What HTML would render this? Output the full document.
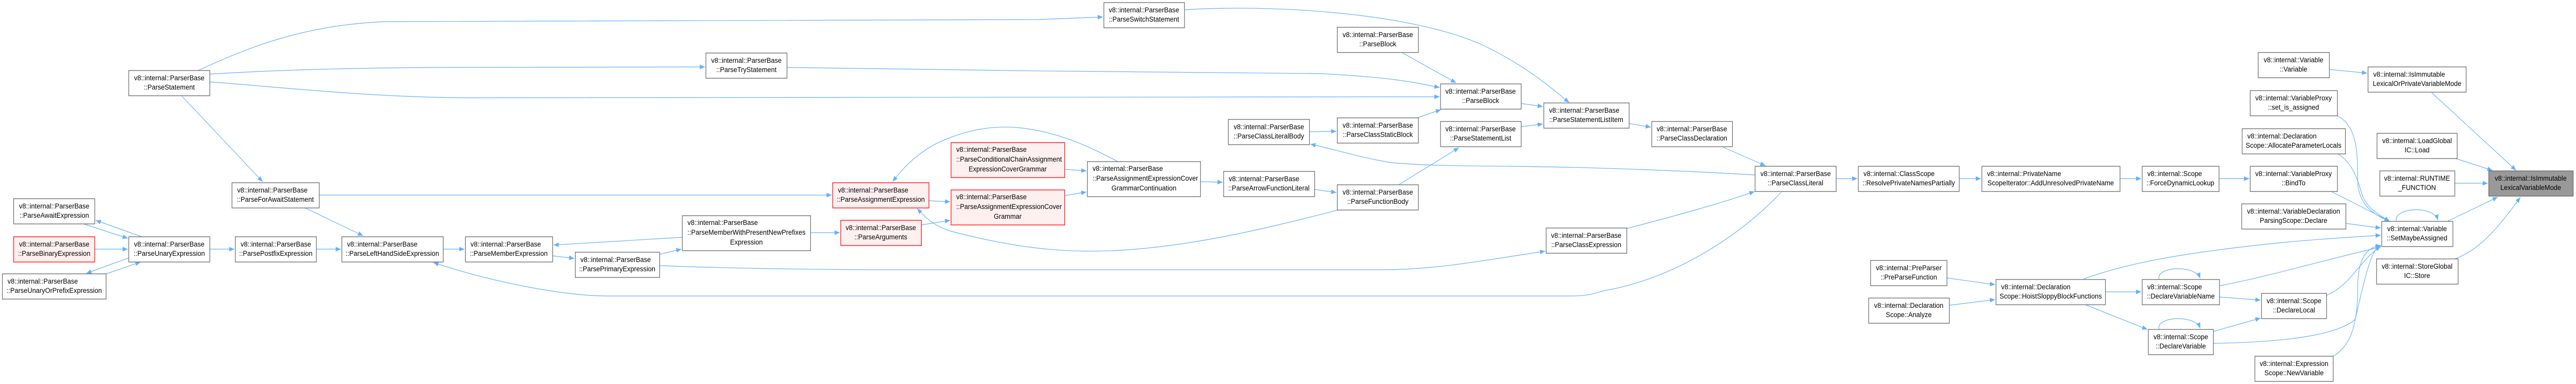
<!DOCTYPE html>
<html><head><meta charset="utf-8"><style>
html,body{margin:0;padding:0;background:#fff;width:100%;height:100%;overflow:hidden;}
svg{display:block;position:absolute;left:0;top:0;width:100%;height:100%;}
text{font-family:"Liberation Sans",sans-serif;font-size:14px;fill:#000;}
.n{fill:#fff;stroke:#666;stroke-width:1.3;}
.r{fill:#fff0f0;stroke:#f00;stroke-width:1.3;}
.g{fill:#999;stroke:#666;stroke-width:1.3;}
.e{fill:none;stroke:#63b0ff;stroke-width:1.2;marker-end:url(#a);}
.m{text-anchor:middle;}
</style></head><body>
<svg viewBox="0 0 5463 746" preserveAspectRatio="none" xmlns="http://www.w3.org/2000/svg">
<defs><marker id="a" markerWidth="12" markerHeight="9" refX="11" refY="4.5" orient="auto" markerUnits="userSpaceOnUse"><path d="M0,0 L11,4.5 L0,9 z" fill="#63b0ff"/></marker></defs>

<path class="e" d="M420,137 C520,95 640,48 820,42 L2200,38 L2339,33"/>
<path class="e" d="M445,144 C600,135 800,131 1000,131 L1495,130"/>
<path class="e" d="M445,159 C600,170 800,190 1000,190 L3053,188"/>
<path class="e" d="M386,187 L557,353"/>
<path class="e" d="M2512,19 C2700,8 3000,25 3150,90 C3250,135 3300,180 3328,199"/>
<path class="e" d="M1669,131 C2000,138 2500,139 2800,143 C2950,150 3000,160 3053,170"/>
<path class="e" d="M2973,102 L3088,161"/>
<path class="e" d="M3005,229 L3056,213"/>
<path class="e" d="M3226,201 L3272,207"/>
<path class="e" d="M3226,246 L3272,241"/>
<path class="e" d="M3455,240 L3501,247"/>
<path class="e" d="M2966,359 L3094,287"/>
<path class="e" d="M3652,285 L3744,322"/>
<path class="e" d="M2777,256 L2834,255"/>
<path class="e" d="M3722,340 C3600,333 3400,325 3200,323 C3050,322 3000,320 2950,316 C2880,305 2830,290 2779,280"/>
<path class="e" d="M2788,368 L2834,374"/>
<path class="e" d="M2838,408 C2700,440 2500,488 2310,488 C2200,488 2100,469 2020,450 C1980,440 1960,420 1945,405"/>
<path class="e" d="M2371,314 C2320,290 2250,256 2160,248 C2100,243 2050,255 2016,267 C1960,285 1920,320 1893,353"/>
<path class="e" d="M1970,390 L2015,392"/>
<path class="e" d="M1954,437 L2015,428"/>
<path class="e" d="M2258,329 L2304,332"/>
<path class="e" d="M2258,380 L2304,373"/>
<path class="e" d="M2546,353 L2593,354"/>
<path class="e" d="M1719,452 L1781,452"/>
<path class="e" d="M677,379 L1764,379"/>
<path class="e" d="M645,403 L770,458"/>
<path class="e" d="M445,484 L497,484"/>
<path class="e" d="M671,484 L723,484"/>
<path class="e" d="M940,484 L985,484"/>
<path class="e" d="M1172,497 L1218,502"/>
<path class="e" d="M1447,461 L1174,476"/>
<path class="e" d="M1399,494 L1445,484"/>
<path class="e" d="M3780,371 C3700,450 3560,540 3400,565 C3380,570 3370,575 3330,575 L1290,575 C1200,575 1050,550 919,510"/>
<path class="e" d="M1399,516 C1500,520 1700,524 1900,524 L2930,524 C3050,524 3150,505 3277,488"/>
<path class="e" d="M3450,444 C3550,420 3650,395 3721,372"/>
<path class="e" d="M3894,347 L3939,347"/>
<path class="e" d="M4155,347 L4201,347"/>
<path class="e" d="M4496,347 L4541,347"/>
<path class="e" d="M4706,347 L4770,347"/>
<path class="e" d="M4129,540 L4231,553"/>
<path class="e" d="M4134,593 L4231,582"/>
<path class="e" d="M4465,567 L4541,567"/>
<path class="e" d="M4420,591 L4554,640"/>
<path class="e" d="M4419,542 C4500,515 4600,495 4800,475 C4900,465 5000,460 5049,457"/>
<path class="e" d="M4579,543 C4570,518 4655,513 4666,541"/>
<path class="e" d="M4579,640 C4570,615 4655,610 4666,638"/>
<path class="e" d="M4707,555 C4800,540 4950,500 5049,480"/>
<path class="e" d="M4707,577 L4794,583"/>
<path class="e" d="M4694,644 L4794,618"/>
<path class="e" d="M4694,667 C4850,665 4960,650 4995,620 C5020,520 5030,485 5049,476"/>
<path class="e" d="M4934,574 C4990,550 5000,510 5049,478"/>
<path class="e" d="M4948,692 C4990,670 5000,620 5000,560 C5000,500 5020,480 5049,477"/>
<path class="e" d="M4940,135 L5020,142"/>
<path class="e" d="M4957,225 C5000,245 5000,300 5000,350 C5000,400 5040,420 5068,430"/>
<path class="e" d="M4956,298 C4990,315 5000,350 5010,380 C5020,405 5050,420 5068,430"/>
<path class="e" d="M4942,371 L5068,430"/>
<path class="e" d="M4975,434 L5049,443"/>
<path class="e" d="M5082,430 C5075,403 5162,398 5170,428"/>
<path class="e" d="M5190,430 L5297,383"/>
<path class="e" d="M5157,180 L5336,331"/>
<path class="e" d="M5208,308 L5286,331"/>
<path class="e" d="M5206,356 L5276,356"/>
<path class="e" d="M5206,503 C5260,485 5300,440 5345,383"/>
<path class="e" d="M174,434 L271,463"/>
<path class="e" d="M301,460 L203,428"/>
<path class="e" d="M201,484 L271,484"/>
<path class="e" d="M273,501 L183,531"/>
<path class="e" d="M225,532 L298,509"/>

<rect class="n" x="273" y="137" width="172" height="49"/><text class="m" x="359" y="156">v8::internal::ParserBase</text><text class="m" x="359" y="174">::ParseStatement</text>
<rect class="n" x="492" y="355" width="185" height="49"/><text x="503" y="374">v8::internal::ParserBase</text><text class="m" x="584" y="392">::ParseForAwaitStatement</text>
<rect class="n" x="29" y="386" width="172" height="49"/><text class="m" x="115" y="405">v8::internal::ParserBase</text><text class="m" x="115" y="423">::ParseAwaitExpression</text>
<rect class="r" x="29" y="460" width="172" height="49"/><text class="m" x="115" y="479">v8::internal::ParserBase</text><text class="m" x="115" y="497">::ParseBinaryExpression</text>
<rect class="n" x="5" y="532" width="220" height="49"/><text x="16" y="551">v8::internal::ParserBase</text><text class="m" x="115" y="569">::ParseUnaryOrPrefixExpression</text>
<rect class="n" x="273" y="460" width="172" height="49"/><text class="m" x="359" y="479">v8::internal::ParserBase</text><text class="m" x="359" y="497">::ParseUnaryExpression</text>
<rect class="n" x="499" y="460" width="172" height="49"/><text class="m" x="585" y="479">v8::internal::ParserBase</text><text class="m" x="585" y="497">::ParsePostfixExpression</text>
<rect class="n" x="725" y="460" width="215" height="49"/><text x="736" y="479">v8::internal::ParserBase</text><text class="m" x="832" y="497">::ParseLeftHandSideExpression</text>
<rect class="n" x="987" y="460" width="185" height="49"/><text x="998" y="479">v8::internal::ParserBase</text><text class="m" x="1079" y="497">::ParseMemberExpression</text>
<rect class="n" x="1220" y="490" width="179" height="49"/><text x="1231" y="509">v8::internal::ParserBase</text><text class="m" x="1309" y="527">::ParsePrimaryExpression</text>
<rect class="n" x="1497" y="103" width="172" height="49"/><text class="m" x="1583" y="122">v8::internal::ParserBase</text><text class="m" x="1583" y="140">::ParseTryStatement</text>
<rect class="n" x="1447" y="419" width="272" height="68"/><text x="1458" y="437">v8::internal::ParserBase</text><text x="1458" y="456">::ParseMemberWithPresentNewPrefixes</text><text class="m" x="1583" y="475">Expression</text>
<rect class="r" x="1766" y="355" width="204" height="49"/><text x="1777" y="374">v8::internal::ParserBase</text><text class="m" x="1868" y="392">::ParseAssignmentExpression</text>
<rect class="r" x="1783" y="428" width="171" height="49"/><text class="m" x="1868" y="447">v8::internal::ParserBase</text><text class="m" x="1868" y="465">::ParseArguments</text>
<rect class="r" x="2017" y="277" width="241" height="68"/><text x="2028" y="295">v8::internal::ParserBase</text><text x="2028" y="314">::ParseConditionalChainAssignment</text><text class="m" x="2137" y="333">ExpressionCoverGrammar</text>
<rect class="r" x="2017" y="369" width="241" height="68"/><text x="2028" y="387">v8::internal::ParserBase</text><text x="2028" y="406">::ParseAssignmentExpressionCover</text><text class="m" x="2137" y="425">Grammar</text>
<rect class="n" x="2341" y="5" width="171" height="49"/><text class="m" x="2426" y="24">v8::internal::ParserBase</text><text class="m" x="2426" y="42">::ParseSwitchStatement</text>
<rect class="n" x="2306" y="314" width="240" height="68"/><text x="2317" y="332">v8::internal::ParserBase</text><text x="2317" y="351">::ParseAssignmentExpressionCover</text><text class="m" x="2426" y="370">GrammarContinuation</text>
<rect class="n" x="2595" y="333" width="193" height="49"/><text x="2606" y="352">v8::internal::ParserBase</text><text class="m" x="2691" y="370">::ParseArrowFunctionLiteral</text>
<rect class="n" x="2605" y="232" width="172" height="49"/><text class="m" x="2691" y="251">v8::internal::ParserBase</text><text class="m" x="2691" y="269">::ParseClassLiteralBody</text>
<rect class="n" x="2836" y="53" width="172" height="49"/><text class="m" x="2922" y="72">v8::internal::ParserBase</text><text class="m" x="2922" y="90">::ParseBlock</text>
<rect class="n" x="3055" y="163" width="171" height="49"/><text class="m" x="3140" y="182">v8::internal::ParserBase</text><text class="m" x="3140" y="200">::ParseBlock</text>
<rect class="n" x="2836" y="229" width="172" height="49"/><text class="m" x="2922" y="248">v8::internal::ParserBase</text><text class="m" x="2922" y="266">::ParseClassStaticBlock</text>
<rect class="n" x="3055" y="236" width="171" height="49"/><text class="m" x="3140" y="255">v8::internal::ParserBase</text><text class="m" x="3140" y="273">::ParseStatementList</text>
<rect class="n" x="3274" y="200" width="181" height="49"/><text x="3285" y="219">v8::internal::ParserBase</text><text class="m" x="3364" y="237">::ParseStatementListItem</text>
<rect class="n" x="2836" y="359" width="172" height="49"/><text class="m" x="2922" y="378">v8::internal::ParserBase</text><text class="m" x="2922" y="396">::ParseFunctionBody</text>
<rect class="n" x="3279" y="443" width="171" height="49"/><text class="m" x="3364" y="462">v8::internal::ParserBase</text><text class="m" x="3364" y="480">::ParseClassExpression</text>
<rect class="n" x="3503" y="236" width="171" height="49"/><text class="m" x="3588" y="255">v8::internal::ParserBase</text><text class="m" x="3588" y="273">::ParseClassDeclaration</text>
<rect class="n" x="3722" y="323" width="172" height="49"/><text class="m" x="3808" y="342">v8::internal::ParserBase</text><text class="m" x="3808" y="360">::ParseClassLiteral</text>
<rect class="n" x="3941" y="323" width="214" height="49"/><text x="3952" y="342">v8::internal::ClassScope</text><text class="m" x="4048" y="360">::ResolvePrivateNamesPartially</text>
<rect class="n" x="3967" y="506" width="162" height="49"/><text class="m" x="4048" y="525">v8::internal::PreParser</text><text class="m" x="4048" y="543">::PreParseFunction</text>
<rect class="n" x="3963" y="579" width="171" height="49"/><text class="m" x="4048" y="598">v8::internal::Declaration</text><text class="m" x="4048" y="616">Scope::Analyze</text>
<rect class="n" x="4203" y="323" width="293" height="49"/><text x="4214" y="342">v8::internal::PrivateName</text><text class="m" x="4349" y="360">ScopeIterator::AddUnresolvedPrivateName</text>
<rect class="n" x="4543" y="323" width="163" height="49"/><text x="4554" y="342">v8::internal::Scope</text><text class="m" x="4624" y="360">::ForceDynamicLookup</text>
<rect class="n" x="4789" y="102" width="151" height="49"/><text class="m" x="4864" y="121">v8::internal::Variable</text><text class="m" x="4864" y="139">::Variable</text>
<rect class="n" x="4772" y="176" width="185" height="49"/><text class="m" x="4864" y="195">v8::internal::VariableProxy</text><text class="m" x="4864" y="213">::set_is_assigned</text>
<rect class="n" x="4755" y="250" width="219" height="49"/><text x="4766" y="269">v8::internal::Declaration</text><text class="m" x="4864" y="287">Scope::AllocateParameterLocals</text>
<rect class="n" x="4772" y="323" width="185" height="49"/><text class="m" x="4864" y="342">v8::internal::VariableProxy</text><text class="m" x="4864" y="360">::BindTo</text>
<rect class="n" x="4754" y="396" width="221" height="49"/><text class="m" x="4864" y="415">v8::internal::VariableDeclaration</text><text class="m" x="4864" y="433">ParsingScope::Declare</text>
<rect class="n" x="4233" y="543" width="232" height="49"/><text x="4244" y="562">v8::internal::Declaration</text><text class="m" x="4349" y="580">Scope::HoistSloppyBlockFunctions</text>
<rect class="n" x="4543" y="543" width="164" height="49"/><text x="4554" y="562">v8::internal::Scope</text><text class="m" x="4625" y="580">::DeclareVariableName</text>
<rect class="n" x="4556" y="640" width="138" height="49"/><text class="m" x="4625" y="659">v8::internal::Scope</text><text class="m" x="4625" y="677">::DeclareVariable</text>
<rect class="n" x="4796" y="570" width="138" height="49"/><text class="m" x="4865" y="589">v8::internal::Scope</text><text class="m" x="4865" y="607">::DeclareLocal</text>
<rect class="n" x="4782" y="692" width="166" height="49"/><text class="m" x="4865" y="711">v8::internal::Expression</text><text class="m" x="4865" y="729">Scope::NewVariable</text>
<rect class="n" x="5022" y="130" width="208" height="49"/><text x="5033" y="149">v8::internal::IsImmutable</text><text class="m" x="5126" y="167">LexicalOrPrivateVariableMode</text>
<rect class="n" x="5041" y="259" width="170" height="49"/><text class="m" x="5126" y="278">v8::internal::LoadGlobal</text><text class="m" x="5126" y="296">IC::Load</text>
<rect class="n" x="5047" y="332" width="159" height="49"/><text class="m" x="5126" y="351">v8::internal::RUNTIME</text><text class="m" x="5126" y="369">_FUNCTION</text>
<rect class="g" x="5278" y="332" width="179" height="49"/><text class="m" x="5367" y="351">v8::internal::IsImmutable</text><text class="m" x="5367" y="369">LexicalVariableMode</text>
<rect class="n" x="5051" y="430" width="151" height="49"/><text class="m" x="5126" y="449">v8::internal::Variable</text><text class="m" x="5126" y="467">::SetMaybeAssigned</text>
<rect class="n" x="5040" y="503" width="173" height="49"/><text class="m" x="5126" y="522">v8::internal::StoreGlobal</text><text class="m" x="5126" y="540">IC::Store</text>
</svg>
</body></html>
